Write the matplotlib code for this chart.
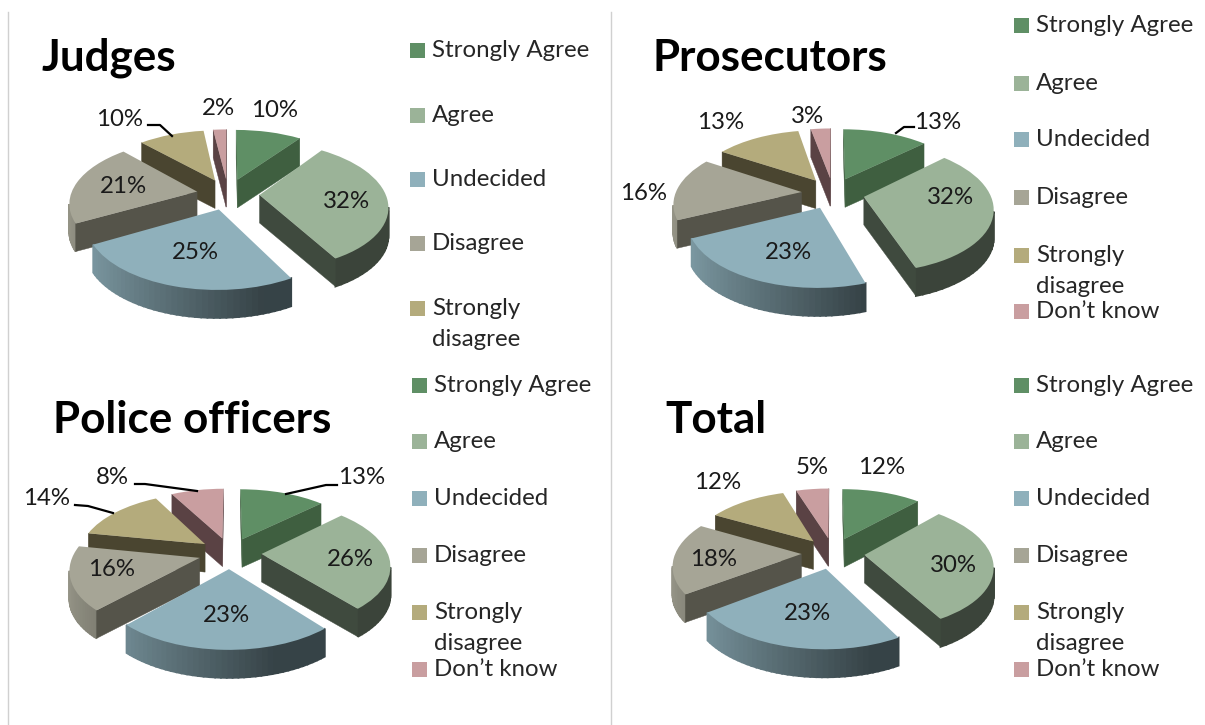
import numpy as np
import matplotlib
matplotlib.use('agg')
import matplotlib.pyplot as plt
from matplotlib.patches import Rectangle
from matplotlib.transforms import Affine2D, Transform

plt.rcParams['font.family'] = ['Lato', 'DejaVu Sans']

# data
categories = ["Strongly Agree", "Agree", "Undecided", "Disagree", "Strongly\ndisagree", "Don\u2019t know"]
judges = [10, 32, 25, 21, 10, 2]
prosecutors = [13, 32, 23, 16, 13, 3]
police = [13, 26, 23, 16, 14, 8]
total = [12, 30, 23, 18, 12, 5]
colors = ["#5f8f65", "#9bb398", "#8fb0bb", "#a6a596", "#b4ab7c", "#c99ea0"]
side_colors = ["#3f5f40", "#3f4a3e", "#3f4a3e", "#55544a", "#4a4530", "#5a4244"]

# layout, in pixels of the picture
figs = (12.05, 7.25)
radius_x = 126
radius_y = 62
persp = 0.16
depth = 28
explode = 0.25
text_size = 17.3
title_size = 31.7

legend_top = [50, 115, 179, 243, 308, None]
legend_right = [25, 83, 139, 197, 255, 311]
legend_bottom = [385, 441, 498, 555, 612, 669]

panels = [
    dict(name="Judges", values=judges, center=(228, 194), title=(42, 58), legend_x=410, legend_y=legend_top,
         labels=[(275, 110), (347, 201), (195, 252), (123, 186), (120, 119), (218, 108)],
         leaders=[[(148, 125), (160, 125), (172, 136)]]),
    dict(name="Prosecutors", values=prosecutors, center=(833, 193), title=(652, 58), legend_x=1014, legend_y=legend_right,
         labels=[(938, 122), (950, 197), (788, 252), (644, 193), (721, 122), (808, 116)],
         leaders=[[(914, 127), (904, 127), (896, 133)]]),
    dict(name="Police officers", values=police, center=(230, 553), title=(53, 420), legend_x=412, legend_y=legend_bottom,
         labels=[(362, 477), (350, 560), (226, 615), (112, 570), (47, 498), (112, 477)],
         leaders=[[(337, 485), (326, 485), (286, 494)], [(75, 505), (88, 506), (113, 513)],
                  [(135, 484), (145, 484), (197, 491)]]),
    dict(name="Total", values=total, center=(833, 553), title=(665, 420), legend_x=1014, legend_y=legend_bottom,
         labels=[(882, 467), (953, 565), (807, 614), (714, 560), (718, 482), (812, 467)],
         leaders=[]),
]


class Perspective(Transform):
    # pushes the back of the pie away from the viewer
    input_dims = 2
    output_dims = 2

    def transform_non_affine(self, values):
        values = np.asarray(values, dtype=float)
        w = 1 + persp * values[:, 1]
        return np.column_stack([values[:, 0] / w, values[:, 1] / w])


def shade(color, amount):
    return tuple(np.array(matplotlib.colors.to_rgb(color)) * amount)


def draw_pie(ax, panel):
    cx, cy = panel["center"]
    to_pixels = Perspective() + Affine2D().scale(radius_x, -radius_y).translate(cx, cy)
    wedges, _ = ax.pie(panel["values"], colors=colors, startangle=90, counterclock=False,
                       explode=[explode] * len(panel["values"]), wedgeprops=dict(linewidth=0))
    apex_y = [to_pixels.transform(np.array([w.center]))[0, 1] for w in wedges]
    for order, i in enumerate(np.argsort(apex_y)):
        w = wedges[i]
        z = 2 + order * 0.01
        # walk round the slice clockwise: centre, arc from theta2 down to theta1
        angles = np.radians(np.linspace(w.theta2, w.theta1, 40))
        arc = np.column_stack([w.center[0] + w.r * np.cos(angles), w.center[1] + w.r * np.sin(angles)])
        arc = to_pixels.transform(arc)
        apex = to_pixels.transform(np.array([w.center]))[0]
        # outer wall, shaded by hand so the left is lit and the right is dark
        for j in range(len(arc) - 1):
            a, b = arc[j], arc[j + 1]
            if b[0] < a[0]:
                amount = np.clip(0.50 - 0.40 * np.cos(angles[j]), 0.38, 0.9)
                ax.fill([a[0], b[0], b[0], a[0]], [a[1], b[1], b[1] + depth, a[1] + depth],
                        color=shade(colors[i], amount), lw=1.3, zorder=z)
        # radial faces, only the ones turned to the viewer
        for a, b in [(apex, arc[0]), (arc[-1], apex)]:
            if b[0] < a[0]:
                ax.fill([a[0], b[0], b[0], a[0]], [a[1], b[1], b[1] + depth, a[1] + depth],
                        color=side_colors[i], lw=0.3, zorder=z)
        w.set_transform(to_pixels + ax.transData)
        w.set_zorder(z + 0.001)
        w.set_clip_on(False)


def draw_legend(ax, panel):
    x = panel["legend_x"]
    for cat, col, y in zip(categories, colors, panel["legend_y"]):
        if y is None:
            continue
        ax.add_patch(Rectangle((x, y - 7.5), 15, 15, facecolor=col, edgecolor="none"))
        ax.text(x + 22, y - 10, cat, fontsize=text_size, color="#262626", va="top", ha="left", linespacing=1.6)


fig = plt.figure(figsize=figs, dpi=100)
ax = fig.add_axes([0, 0, 1, 1])

for panel in panels:
    draw_pie(ax, panel)

ax.set_aspect("auto")
ax.set_xlim(0, 1205)
ax.set_ylim(725, 0)
ax.axis("off")

for panel in panels:
    draw_legend(ax, panel)
    ax.text(panel["title"][0], panel["title"][1], panel["name"], fontsize=title_size, fontweight="bold",
            color="black", va="center", ha="left")
    for v, pos in zip(panel["values"], panel["labels"]):
        ax.text(pos[0], pos[1], f"{v}%", fontsize=text_size, color="#1a1a1a", ha="center", va="center", zorder=5)
    for line in panel["leaders"]:
        xs, ys = zip(*line)
        ax.plot(xs, ys, color="black", lw=1.6, zorder=5)

ax.plot([8, 8], [12, 725], color="#d0d0d0", lw=1)
ax.plot([611, 611], [12, 725], color="#d0d0d0", lw=1)

fig.savefig("out.png", dpi=100)
